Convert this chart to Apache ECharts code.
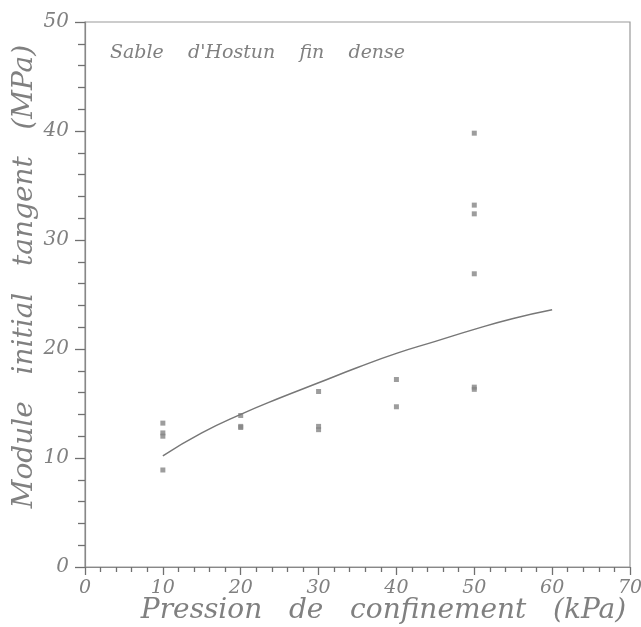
<!DOCTYPE html>
<html>
<head>
<meta charset="utf-8">
<script src="https://cdn.jsdelivr.net/npm/echarts@6/dist/echarts.min.js"></script>
<style>html,body{margin:0;padding:0;background:#fff;}#c{width:641px;height:627px;}</style>
</head>
<body>
<div id="c"></div>
<script>
var xTicks = [0, 10, 20, 30, 40, 50, 60, 70];
var yTicks = [0, 10, 20, 30, 40, 50];
var measured = [
  [10, 13.2], [10, 12.3], [10, 12.0], [10, 8.9],
  [20, 13.9], [20, 12.9], [20, 12.8],
  [30, 16.1], [30, 12.9], [30, 12.6],
  [40, 17.2], [40, 14.7],
  [50, 39.8], [50, 33.2], [50, 32.4], [50, 26.9], [50, 16.5], [50, 16.3]
];
var curveX = [10, 15, 20, 25, 30, 35, 40, 45, 50, 55, 60];
var curveY = [10.2, 12.3, 14.0, 15.5, 16.9, 18.3, 19.6, 20.7, 21.8, 22.8, 23.6];
var noteText = "Sable    d'Hostun    fin    dense";
var xName = "Pression   de   confinement   (kPa)";
var yName = "Module   initial   tangent   (MPa)";

var gray = '#808080';
var tickColor = '#707070';
var font = 'DejaVu Serif';
var chart = echarts.init(document.getElementById('c'));
chart.setOption({
  backgroundColor: '#fff',
  animation: false,
  grid: {left: 85, top: 22, right: 11, bottom: 60, containLabel: false, outerBoundsMode: 'none',
    show: true, borderColor: '#999', borderWidth: 1.2, backgroundColor: 'transparent'},
  xAxis: {
    type: 'value', min: xTicks[0], max: xTicks[xTicks.length - 1], interval: 10,
    position: 'bottom',
    axisLine: {show: true, onZero: false, lineStyle: {color: '#888', width: 1.2}},
    name: xName, nameLocation: 'middle', nameGap: 30, nameMoveOverlap: false,
    nameTextStyle: {fontFamily: font, fontStyle: 'italic', fontSize: 28, color: gray, padding: [0, 0, 0, 52]},
    axisTick: {show: true, inside: false, length: 8, lineStyle: {color: tickColor, width: 1.3}},
    minorTick: {show: true, splitNumber: 5, length: 5, lineStyle: {color: tickColor, width: 1.3}},
    splitLine: {show: false},
    axisLabel: {fontFamily: font, fontStyle: 'italic', fontSize: 19, color: gray, margin: 12,
      formatter: function (v) { return xTicks.indexOf(v) >= 0 ? String(v) : ''; }}
  },
  yAxis: {
    type: 'value', min: yTicks[0], max: yTicks[yTicks.length - 1], interval: 10,
    name: yName, nameLocation: 'middle', nameGap: 46, nameRotate: 90, nameMoveOverlap: false,
    nameTextStyle: {fontFamily: font, fontStyle: 'italic', fontSize: 28, color: gray, padding: [0, 0, 0, 36]},
    axisLine: {show: true, onZero: false, lineStyle: {color: '#888', width: 1.2}},
    axisTick: {show: true, length: 10, lineStyle: {color: tickColor, width: 1.3}},
    minorTick: {show: true, splitNumber: 5, length: 7, lineStyle: {color: tickColor, width: 1.3}},
    splitLine: {show: false},
    axisLabel: {fontFamily: font, fontStyle: 'italic', fontSize: 20, color: gray, margin: 16,
      formatter: function (v) { return yTicks.indexOf(v) >= 0 ? String(v) : ''; }}
  },
  graphic: [{
    type: 'text', left: 110, top: 44,
    style: {text: noteText, font: 'italic 19px "DejaVu Serif"', fill: gray}
  }],
  series: [
    {type: 'line', data: curveX.map(function (x, i) { return [x, curveY[i]]; }), smooth: true,
     showSymbol: false, lineStyle: {color: '#777', width: 1.5}},
    {type: 'scatter', data: measured, symbol: 'rect', symbolSize: 5, itemStyle: {color: '#858585'}}
  ]
});
</script>
</body>
</html>
